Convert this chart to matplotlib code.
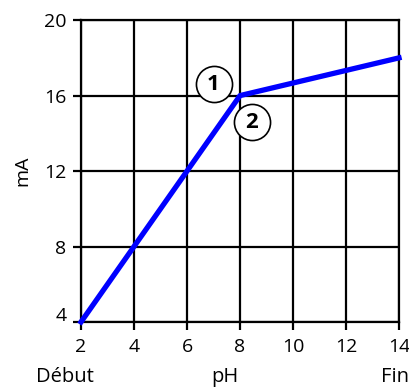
import matplotlib
matplotlib.use('Agg')
import matplotlib.pyplot as plt
import matplotlib.transforms as mtransforms

plt.rcParams['font.family'] = ['Open Sans', 'DejaVu Sans']

# data
ph = [2, 8, 14]
ma = [4, 16, 18]
x_ticks = [2, 4, 6, 8, 10, 12, 14]
y_ticks = [4, 8, 12, 16, 20]
marker_labels = ['1', '2']
marker_x = [7.0, 8.45]
marker_y = [16.6, 14.6]

fig = plt.figure(figsize=(4.10, 3.87), dpi=100)
ax = fig.add_axes([0.1976, 0.168, 0.7756, 0.780])

ax.set_xlim(2, 14)
ax.set_ylim(4, 20)
ax.set_xticks(x_ticks)
ax.set_yticks(y_ticks)
ax.grid(True, color='black', linewidth=1.6)
ax.set_axisbelow(True)
for s in ax.spines.values():
    s.set_color('black')
    s.set_linewidth(1.6)

ax.tick_params(axis='both', length=5.5, width=1.6, labelsize=14)
ax.tick_params(axis='y', pad=5)
ax.tick_params(axis='x', pad=6)

# bottom y label sits a bit above its gridline in the reference
fig.canvas.draw()
lbl = ax.get_yticklabels()[0]
lbl.set_transform(lbl.get_transform() + mtransforms.ScaledTranslation(0, 8 / 100, fig.dpi_scale_trans))

ax.plot(ph, ma, color='#0000ff', linewidth=3.8, solid_capstyle='projecting', zorder=3, clip_on=False)

ax.plot(marker_x, marker_y, 'o', markersize=26, markerfacecolor='white',
        markeredgecolor='black', markeredgewidth=1.2, zorder=4, clip_on=False)
for lab, mx, my in zip(marker_labels, marker_x, marker_y):
    ax.text(mx, my, lab, ha='center', va='center', fontsize=16, fontweight='bold', zorder=5)

ax.set_ylabel('mA', fontsize=14, labelpad=9)
fig.text(0.088, 0.012, 'Début', fontsize=14.5, ha='left', va='baseline')
fig.text(0.548, 0.012, 'pH', fontsize=14.5, ha='center', va='baseline')
fig.text(0.998, 0.012, 'Fin', fontsize=14.5, ha='right', va='baseline')

fig.savefig('out.png', dpi=100)
